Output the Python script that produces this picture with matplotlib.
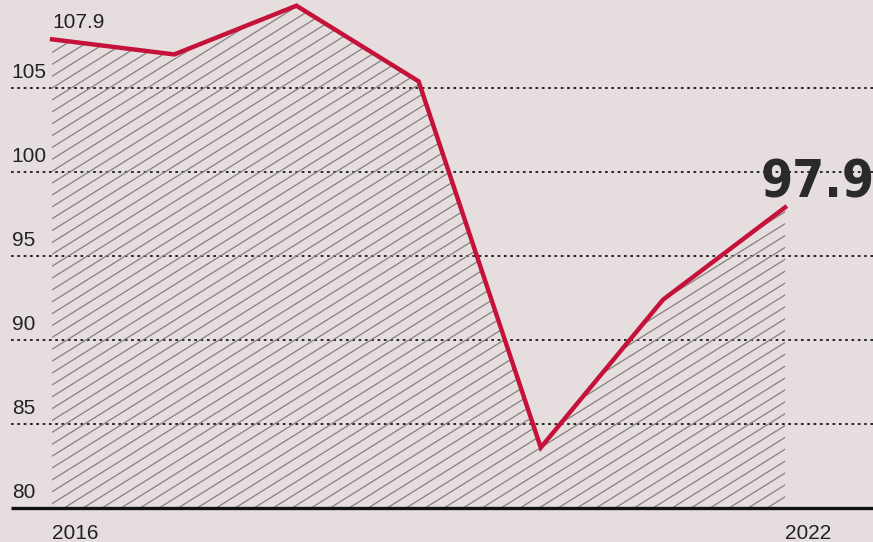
import numpy as np
import matplotlib
matplotlib.use("Agg")
from matplotlib import pyplot as plt

# DATA
years = [2016, 2017, 2018, 2019, 2020, 2021, 2022]
values = [107.9, 107.0, 109.9, 105.4, 83.6, 92.4, 97.9]
y_ticks = [80, 85, 90, 95, 100, 105]
x_labels = ["2016", "2022"]

BG = "#e6dede"
RED = "#c4123a"
INK = "#222222"

fig = plt.figure(figsize=(8.73, 5.42), dpi=100, facecolor=BG)
ax = fig.add_axes([0, 0, 1, 1], facecolor=BG)
x0, x1 = 2015.574, 2022.719
y0, y1 = 77.98, 110.24
ax.set_xlim(x0, x1)
ax.set_ylim(y0, y1)
ax.axis("off")

# pixels per data unit, used for the hatch angle
px_x = 873 / (x1 - x0)
px_y = 542 / (y1 - y0)

grid_start = 2015.66
# dotted gridlines with labels sitting on top
for t in y_ticks[1:]:
    ax.hlines(t, grid_start, x1, colors="#1a1a1a", linestyles=(0, (1.5, 2)), linewidth=1.3, zorder=1)
for t in y_ticks:
    ax.text(grid_start + 0.01, t + 0.35, str(t), fontsize=15, color=INK,
            ha="left", va="bottom", family="Liberation Sans", zorder=4)

# hatched area under the line (hand drawn hatch, ~32 degrees)
area = ax.fill_between(years, values, 80, facecolor="none", linewidth=0, zorder=2)
clip = area.get_paths()[0]
angle = np.deg2rad(32)
step = 19  # px between hatch lines along a horizontal
length = 1000
for start_px in np.arange(-length, 873, step):
    xs = np.array([start_px, start_px + length]) / px_x + x0
    ys = np.array([0, length * np.tan(angle)]) / px_y + 80
    ln, = ax.plot(xs, ys, color="#858080", linewidth=0.9, zorder=2)
    ln.set_clip_path(clip, ax.transData)

ax.plot(years, values, color=RED, linewidth=3.2, solid_joinstyle="miter", zorder=3)

# baseline
ax.hlines(80, grid_start, x1, colors="#111111", linewidth=2.4, zorder=4)

ax.text(years[0], values[0] + 0.45, "107.9", fontsize=15, color=INK, ha="left",
        va="bottom", family="Liberation Sans", zorder=5)
ax.text(x1 + 0.01, values[-1] - 0.05, "97.9", fontsize=37, color="#2a2a2a", ha="right",
        va="bottom", family="DejaVu Sans", fontstretch="condensed",
        fontweight="bold", zorder=5)

ax.text(years[0], 78.5, x_labels[0], fontsize=15, color=INK, ha="left", va="center",
        family="Liberation Sans")
ax.text(years[-1], 78.5, x_labels[1], fontsize=15, color=INK, ha="left", va="center",
        family="Liberation Sans")

fig.savefig("out.png", dpi=100, facecolor=BG)
